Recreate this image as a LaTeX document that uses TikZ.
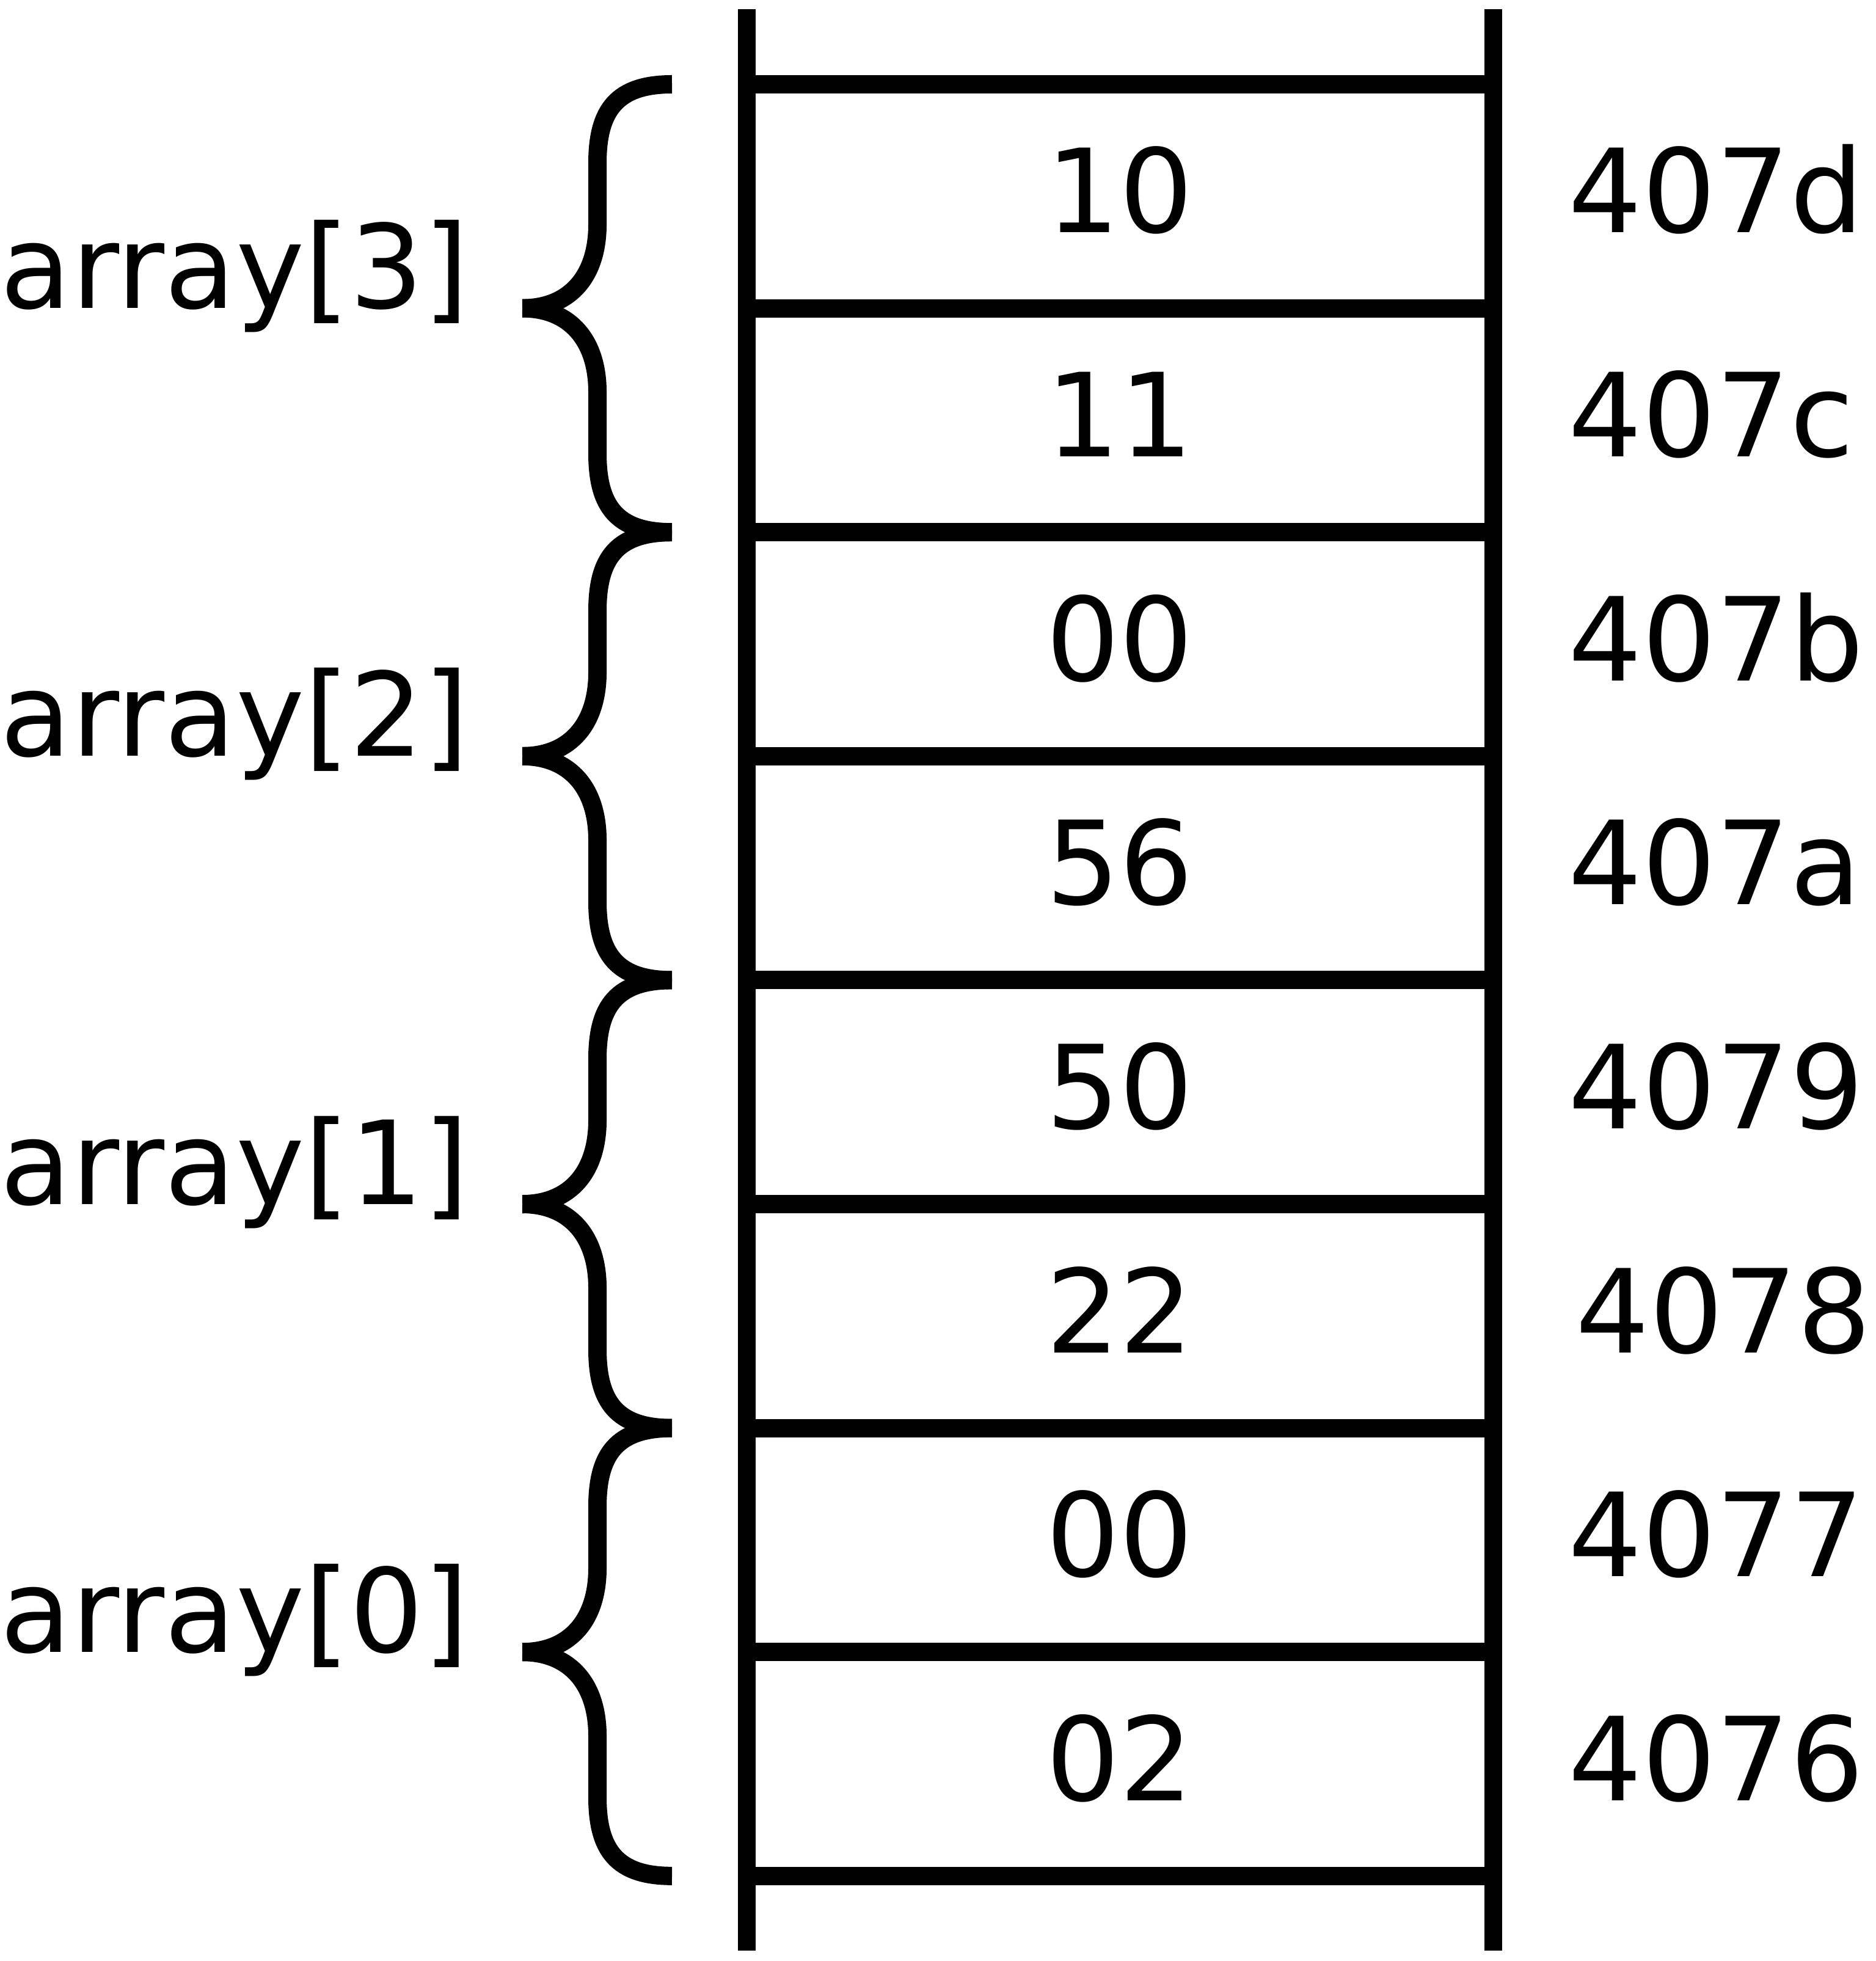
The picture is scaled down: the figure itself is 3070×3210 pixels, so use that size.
\documentclass[tikz,border=0pt]{standalone}
\usepackage{fontspec}
\setmainfont{DejaVu Sans}
\begin{document}
\begin{tikzpicture}[x=0.01cm,y=-0.01cm,
  wall/.style={line width=0.29cm},
  rung/.style={line width=0.30cm},
  bracestroke/.style={line width=0.30cm,line cap=butt},
  txt/.style={inner sep=0pt,font=\fontsize{54pt}{60pt}\selectfont},
  lbl/.style={txt,anchor=base west},
  val/.style={txt,anchor=base}]
\useasboundingbox (0,0) rectangle (3070,3210);

% memory column: two walls and nine cell borders
\coordinate (lt) at (1222,15);
\coordinate (lb) at (1222,3193);
\coordinate (rt) at (2444,15);
\coordinate (rb) at (2444,3193);
\draw[wall] (lt) -- (lb);
\draw[wall] (rt) -- (rb);
\foreach \k in {0,...,8}
  \draw[rung] (1208,{138+366.6*\k}) -- (2458,{138+366.6*\k});

% cell contents and their addresses
\foreach \v/\a/\dx [count=\i from 0] in
  {10/407d/0, 11/407c/0, 00/407b/0, 56/407a/0,
   50/4079/0, 22/4078/12, 00/4077/0, 02/4076/0} {
  \node[val] (v\i) at (1833,{381+366.6*\i}) {\v};
  \node[lbl] (a\i) at ({2567+\dx},{381+366.6*\i}) {\a};
}

% braces grouping two bytes per element, with element names
\foreach \t [count=\k from 0] in {{array[3]},{array[2]},{array[1]},{array[0]}} {
  \pgfmathsetmacro{\ya}{138+733.2*\k}
  \pgfmathsetmacro{\ym}{\ya+366.6}
  \pgfmathsetmacro{\yb}{\ya+733.2}
  \coordinate (bt\k) at (1100,\ya);
  \coordinate (tip\k) at (855,\ym);
  \coordinate (bb\k) at (1100,\yb);
  \draw[bracestroke] (bt\k) .. controls (1010,\ya) and (978,\ya+42) .. (978,\ya+129)
    -- (978,\ym-137) .. controls (978,\ym-55) and (935,\ym) .. (tip\k);
  \draw[bracestroke] (tip\k) .. controls (935,\ym) and (978,\ym+55) .. (978,\ym+137)
    -- (978,\yb-129) .. controls (978,\yb-42) and (1010,\yb) .. (bb\k);
  \node[lbl] (n\k) at (0,\ym) {\t};
}
\end{tikzpicture}
\end{document}
